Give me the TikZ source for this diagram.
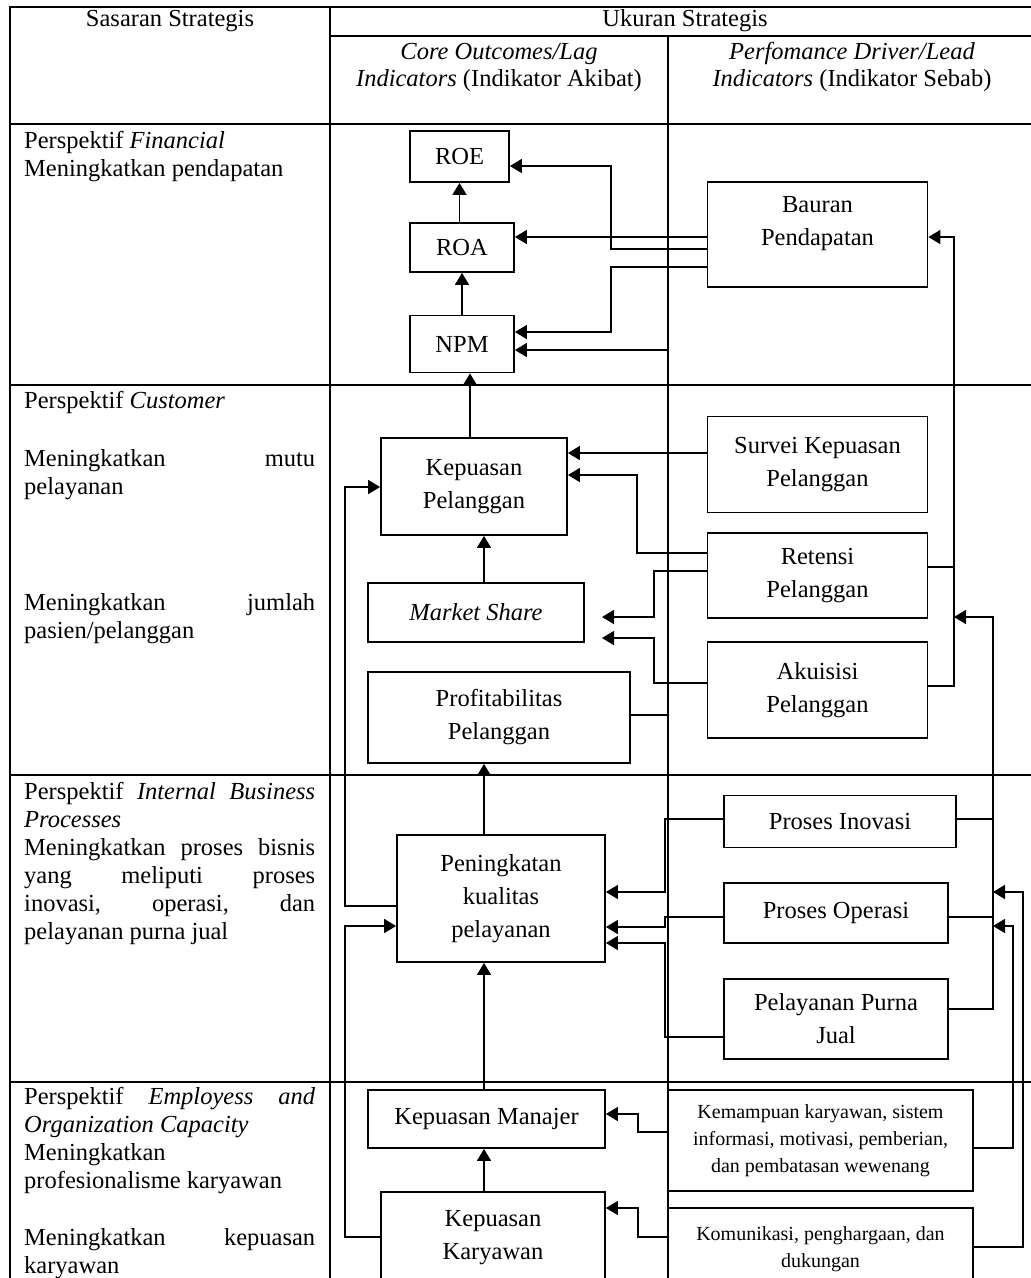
\documentclass[tikz,border=0pt]{standalone}
\usepackage{fontspec}
\setmainfont{Liberation Serif}
\usetikzlibrary{arrows.meta}
% one justified line across the width of the first column
\newcommand\justline[1]{\makebox[291pt][s]{#1}}
\begin{document}
\begin{tikzpicture}[x=1pt,y=-1pt,
  grid/.style={line width=2.2pt},
  link/.style={line width=1.6pt},
  arr/.style={link, -{Triangle[length=12pt,width=14pt]}},
  box/.style={draw, line width=1.8pt, inner sep=0pt, align=center,
    font=\fontsize{24.5}{33}\selectfont},
  smallbox/.style={box, font=\fontsize{20}{27}\selectfont},
  cell/.style={anchor=north west, inner sep=0pt, align=left,
    font=\fontsize{24.5}{28}\selectfont},
  head/.style={inner sep=0pt, align=center, font=\fontsize{24.5}{27}\selectfont}]

\useasboundingbox (0,0) rectangle (1031,1278);
\clip (0,0) rectangle (1031,1278);

% table rules (the table runs on past the right and bottom edges)
\draw[grid] (9,7) -- (1031,7);
\draw[grid] (10,7) -- (10,1278);
\draw[grid] (330,7) -- (330,1278);
\draw[grid] (330,36) -- (1031,36);
\draw[grid] (668,36) -- (668,1278);
\foreach \y in {124,385,775,1082} \draw[grid] (10,\y) -- (1031,\y);

% header
\node[head] (hsas) at (170,21) {Sasaran Strategis};
\node[head] (hukr) at (685,21) {Ukuran Strategis};
\node[head] (hlag) at (499,67) {\textit{Core Outcomes/Lag}\\\textit{Indicators} (Indikator Akibat)};
\node[head] (hlead) at (852,67) {\textit{Perfomance Driver/Lead}\\\textit{Indicators} (Indikator Sebab)};

% strategic objectives
\node[cell] (sfin) at (24,131) {Perspektif \textit{Financial}\\Meningkatkan pendapatan};
\node[cell] (scus) at (24,391) {Perspektif \textit{Customer}\\[30pt]\justline{Meningkatkan mutu}\\pelayanan\\[88pt]\justline{Meningkatkan jumlah}\\pasien/pelanggan};
\node[cell] (sint) at (24,782) {\justline{Perspektif \textit{Internal Business}}\\\textit{Processes}\\\justline{Meningkatkan proses bisnis}\\\justline{yang meliputi proses}\\\justline{inovasi, operasi, dan}\\pelayanan purna jual};
\node[cell] (semp) at (24,1087) {\justline{Perspektif \textit{Employess and}}\\\textit{Organization Capacity}\\Meningkatkan\\profesionalisme karyawan\\[29pt]\justline{Meningkatkan kepuasan}\\karyawan};

% lag indicators
\node[box, minimum width=99pt, minimum height=51pt] (roe) at (459.5,156.5) {ROE};
\node[box, minimum width=104pt, minimum height=49pt] (roa) at (462,247.5) {ROA};
\node[box, minimum width=104pt, minimum height=57pt] (npm) at (462,344) {NPM};
\node[box, minimum width=186pt, minimum height=97pt] (kpel) at (474,486.5) {Kepuasan\\Pelanggan};
\node[box, minimum width=216pt, minimum height=59pt] (mshare) at (476,612.5) {\textit{Market Share}};
\node[box, minimum width=262pt, minimum height=91pt] (profit) at (499,717.5) {Profitabilitas\\Pelanggan};
\node[box, minimum width=208pt, minimum height=127pt] (pen) at (501,898.5) {Peningkatan\\kualitas\\pelayanan};
\node[box, minimum width=237pt, minimum height=58pt] (manajer) at (486.5,1119) {Kepuasan Manajer};
\node[box, minimum width=224pt, minimum height=92pt] (karyawan) at (493,1238) {Kepuasan\\Karyawan};

% lead indicators
\node[box, minimum width=220pt, minimum height=105pt,
  label={[name=bauranT, align=center, font=\fontsize{24.5}{33}\selectfont, yshift=11pt]center:{Bauran\\Pendapatan}}]
  (bauran) at (817.5,234.5) {};
\node[box, minimum width=220pt, minimum height=96pt] (survei) at (817.5,464.5) {Survei Kepuasan\\Pelanggan};
\node[box, minimum width=220pt, minimum height=85pt] (retensi) at (817.5,575.5) {Retensi\\Pelanggan};
\node[box, minimum width=220pt, minimum height=96pt] (akuisisi) at (817.5,690) {Akuisisi\\Pelanggan};
\node[box, minimum width=232pt, minimum height=52pt] (inovasi) at (840,821.5) {Proses Inovasi};
\node[box, minimum width=224pt, minimum height=60pt] (operasi) at (836,913) {Proses Operasi};
\node[box, minimum width=224pt, minimum height=80pt] (purna) at (836,1019) {Pelayanan Purna\\Jual};
\node[smallbox, minimum width=305pt, minimum height=101pt] (kemampuan) at (820.5,1140.5) {Kemampuan karyawan, sistem\\informasi, motivasi, pemberian,\\dan pembatasan wewenang};
\node[smallbox, minimum width=305pt, minimum height=82pt] (komunikasi) at (820.5,1249) {Komunikasi, penghargaan, dan\\dukungan};

% junctions and free ends
\coordinate (cx) at (484,0);
\coordinate (jret) at (954,567);
\coordinate (jpro) at (954,617);
\coordinate (jin) at (993,819);
\coordinate (jop) at (993,917);
\coordinate (jkom) at (993,892);
\coordinate (jkem) at (993,926);
\coordinate (ms1) at (602,617);
\coordinate (ms2) at (602,638);

% financial links
\draw[arr] (roa.north -| roe.south) -- (roe.south);
\draw[arr] (npm.north) -- (roa.south);
\draw[arr] (bauran.west |- 0,237) -- (roa.east |- 0,237);
\draw[arr] (bauran.west |- 0,249) -| (611,166) -- (roe.east |- 0,166);
\draw[arr] (bauran.west |- 0,267) -| (611,332) -- (npm.east |- 0,332);
\draw[arr] (profit.east |- 0,715) -| (668,350) -- (npm.east |- 0,350);

% right-hand feedback lines
\draw[arr] (akuisisi.east |- 0,686) -| (954,237) -- (bauran.east |- 0,237);
\draw[link] (retensi.east |- 0,567) -- (jret);
\draw[arr] (purna.east |- 0,1009) -| (993,617) -- (jpro);
\draw[link] (inovasi.east |- 0,819) -- (jin);
\draw[link] (operasi.east |- 0,917) -- (jop);
\draw[arr] (kemampuan.east |- 0,1148) -| (1013,926) -- (jkem);
\draw[arr] (komunikasi.east |- 0,1247) -| (1023,892) -- (jkom);

% customer links
\draw[arr] (kpel.north -| 470,0) -- (npm.south -| 470,0);
\draw[arr] (survei.west |- 0,453) -- (kpel.east |- 0,453);
\draw[arr] (retensi.west |- 0,553) -| (637,475) -- (kpel.east |- 0,475);
\draw[arr] (retensi.west |- 0,571) -| (654,617) -- (ms1);
\draw[arr] (akuisisi.west |- 0,683) -| (654,638) -- (ms2);
\draw[arr] (mshare.north -| cx) -- (kpel.south -| cx);

% internal process links
\draw[arr] (pen.north -| cx) -- (profit.south -| cx);
\draw[arr] (pen.west |- 0,906) -| (345,487) -- (kpel.west |- 0,487);
\draw[arr] (inovasi.west |- 0,819) -| (665,892) -- (pen.east |- 0,892);
\draw[arr] (operasi.west |- 0,917) -| (665,927) -- (pen.east |- 0,927);
\draw[arr] (purna.west |- 0,1037) -| (665,943) -- (pen.east |- 0,943);

% employee links
\draw[arr] (manajer.north -| cx) -- (pen.south -| cx);
\draw[arr] (karyawan.north -| cx) -- (manajer.south -| cx);
\draw[arr] (karyawan.west |- 0,1237) -| (345,926) -- (pen.west |- 0,926);
\draw[arr] (kemampuan.west |- 0,1132) -| (638,1114) -- (manajer.east |- 0,1114);
\draw[arr] (komunikasi.west |- 0,1237) -| (638,1208) -- (karyawan.east |- 0,1208);
\end{tikzpicture}
\end{document}
